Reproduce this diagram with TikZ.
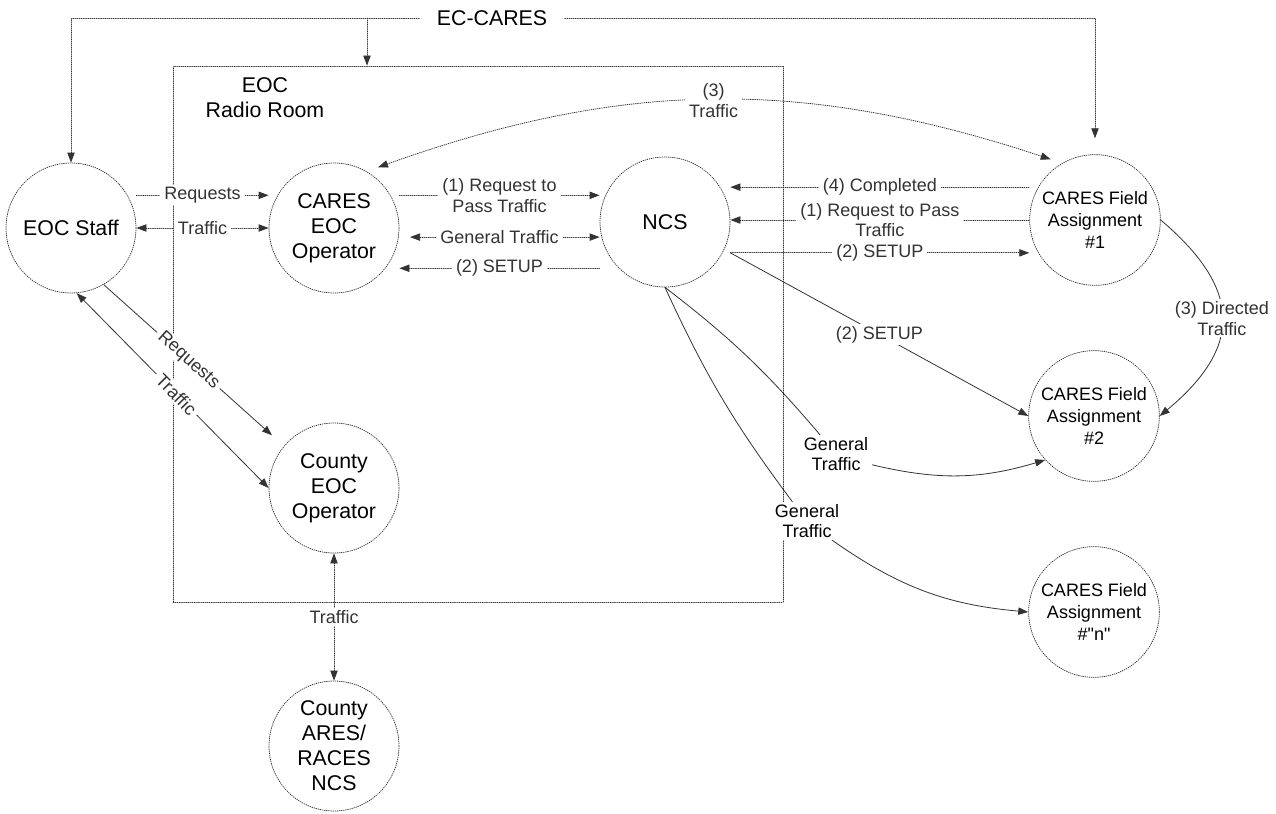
\documentclass[tikz,border=0pt]{standalone}
\usepackage{fontspec}
\setmainfont{Liberation Sans}[Ligatures=TeXOff]
\usetikzlibrary{arrows.meta}

\begin{document}
\begin{tikzpicture}[line cap=round,line join=round,>={Triangle[length=7.5pt,width=5.5pt]},x=0.75pt,y=-0.75pt,
  link/.style={line width=0.6pt,black!80,densely dotted},
  wire/.style={line width=0.6pt,black!80},
  bigtext/.style={align=center,font=\fontsize{16}{18.75}\selectfont},
  smalltext/.style={align=center,font=\fontsize{13.5}{16.5}\selectfont},
  lbl/.style={fill=white,inner xsep=3pt,inner ysep=1.5pt,align=center,font=\fontsize{13.5}{15.5}\selectfont},
  post/.style={circle,draw=black!80,line width=0.6pt,densely dotted,minimum size=97.5pt,inner sep=0pt,label={[bigtext]center:#1}},
  fieldpost/.style={circle,draw=black!80,line width=0.6pt,densely dotted,minimum size=98pt,inner sep=0pt,label={[smalltext]center:#1}}]
\useasboundingbox (0,0) rectangle (1276,813);
\node[draw=black!80,line width=0.6pt,densely dotted,minimum width=457.5pt,minimum height=402pt,inner sep=0pt] (room) at (478,334) {};
\node[bigtext] (roomname) at (265,98) {EOC\\Radio Room};
\node[bigtext,inner xsep=13pt] (ec) at (492,18) {EC-CARES};
\coordinate (split) at (367,18);

\node[post={EOC Staff}] (staff) at (71,228) {};
\node[post={CARES\\EOC\\Operator}] (cares) at (334,228) {};
\node[post={NCS}] (ncs) at (665,222) {};
\node[post={County\\EOC\\Operator}] (county) at (334,488) {};
\node[post={County\\ARES/\\RACES\\NCS}] (ares) at (334,746) {};
\node[fieldpost={CARES Field\\Assignment\\\#1}] (f1) at (1095,220) {};
\node[fieldpost={CARES Field\\Assignment\\\#2}] (f2) at (1094,416) {};
\node[fieldpost={CARES Field\\Assignment\\\#"n"}] (fn) at (1094,612) {};

\draw[link,->] (ec.west) -| (staff.north);
\draw[link,->,shorten >=12pt] (ec.east) -| (f1.north);
\draw[link,->] (split) -- (split |- room.north);

\draw[link,->] (staff.east |- staff.30) -- node[lbl]{Requests} (cares.west |- staff.30);
\draw[link,<->] (staff.east) -- node[lbl]{Traffic} (cares.west);
\draw[wire,->,shorten >=12pt] (staff.-60) -- node[lbl,sloped,pos=0.47]{Requests} (county.140);
\draw[wire,<->] (staff.-85) -- node[lbl,sloped,pos=0.52]{Traffic} (county.west);
\draw[link,<->] (county.south) -- node[lbl]{Traffic} (ares.north);

\draw[link,->] (cares.east |- cares.30) -- node[lbl]{(1) Request to\\Pass Traffic} (ncs.west |- cares.30);
\draw[link,<->,shorten <=8pt] (cares.east |- cares.-8) -- node[lbl]{General Traffic} (ncs.west |- cares.-8);
\draw[link,<-] (cares.east |- cares.-38) -- node[lbl]{(2) SETUP} (ncs.west |- cares.-38);
\draw[link,<->,shorten <=9pt,shorten >=9pt] (cares.60) to[bend left=19] node[lbl]{(3)\\Traffic} (f1.120);

\coordinate (setup) at (ncs.east |- f1.-30);
\draw[link,<-] (ncs.east |- f1.30) -- node[lbl]{(4) Completed} (f1.west |- f1.30);
\draw[link,<-] (ncs.east |- f1.west) -- node[lbl]{(1) Request to Pass\\Traffic} (f1.west);
\draw[link,->] (setup) -- node[lbl]{(2) SETUP} (f1.west |- setup);
\draw[wire,->] (setup) -- node[lbl]{(2) SETUP} (f2.west);
\draw[wire,->] (f1.east) to[bend left=50,looseness=1.4] node[lbl]{(3) Directed\\Traffic} (f2.east);

\node[lbl] (gt1) at (836,454) {General\\Traffic};
\node[lbl] (gt2) at (807,521) {General\\Traffic};
\draw[wire] (ncs.south) to[bend left=6] (gt1);
\draw[wire] (ncs.south) to[bend right=6] (gt2);
\draw[wire,->] (gt1) to[bend right=15] (f2.-138);
\draw[wire,->] (gt2) to[bend right=15] (fn.west);
\end{tikzpicture}
\end{document}
